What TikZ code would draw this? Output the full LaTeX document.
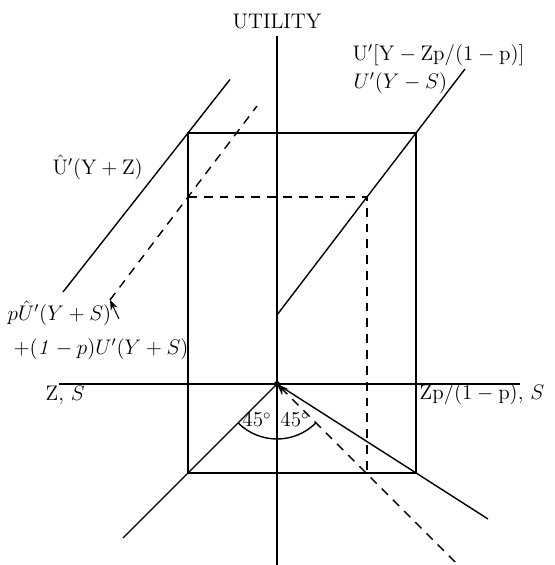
\documentclass[tikz,border=0pt]{standalone}
\usepackage{amsfonts,amssymb,amsmath}
\usepackage{tikz}
\usetikzlibrary{arrows.meta}

\begin{document}
\begin{tikzpicture}[>=Stealth,thick,font=\fontsize{12}{14}\selectfont,
  dashln/.style={dash pattern=on 5pt off 4pt},
  lbl/.style={inner sep=0pt,anchor=west}]
\useasboundingbox (-5.54,-3.62) rectangle (5.54,7.68);
\coordinate (O) at (0,0);
\coordinate (TL) at (-1.78,5.02);
\coordinate (TR) at (2.78,5.02);
\coordinate (BL) at (-1.78,-1.78);
\coordinate (BR) at (2.78,-1.78);
\coordinate (P) at (1.8,3.74);
\coordinate (Q) at (-1.78,3.74);
\coordinate (R) at (1.8,-1.78);
\coordinate (D1) at (-3.34,1.68);
\coordinate (tail) at (-3.16,1.3);
\draw(0,-3.62)--(0,6.96)node[above](util){UTILITY};
\draw(-4.36,0)--(4.86,0);
\draw(TL)--(TR)--(BR)--(BL)--cycle;
\draw(-4.28,1.84)--(TL)--(-0.94,6.09);
\draw(0,1.38)--(P)--(TR)--(3.76,6.3);
\draw[dashln](Q)--(P)--(R);
\draw[dashln](D1)--(Q)--(-0.4,5.56);
\draw(-3.08,-3.08)--(O)--(4.22,-2.7);
\draw[dashln,->](3.56,-3.56)--(O);
\fill(O)circle(0.06);
\draw(225:1.1)arc(225:315:1.1);
\draw[semithick,->](tail)--(D1);
\node[lbl](uprime) at (1.5,6.58){$\mathrm{U'[Y-Zp/(1-p)]}$};
\node[lbl](uys) at (1.52,6.02){$U'(Y-S)$};
\node[lbl](uhat) at (-4.5,4.34){$\mathrm{\hat{U}'(Y+Z)}$};
\node[lbl](mixa) at (-5.4,1.42){$p\hat{U}'(Y+S)$};
\node[lbl](mixb) at (-5.28,0.7){$+(\mathit{1}-p)U'(Y+S)$};
\node[lbl](zs) at (-4.64,-0.22){Z, $S$};
\node[lbl](zps) at (2.84,-0.2){$\mathrm{Zp/(1-p)}$, $S$};
\node(anga) at (-0.4,-0.72){45$^\circ$};
\node(angb) at (0.36,-0.72){45$^\circ$};
\end{tikzpicture}
\end{document}
